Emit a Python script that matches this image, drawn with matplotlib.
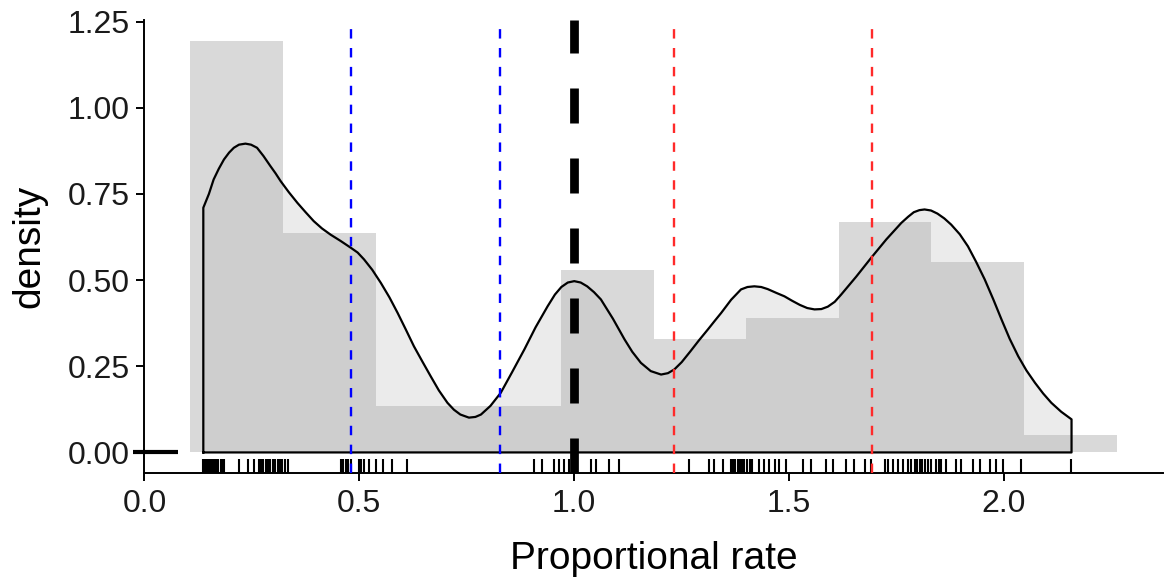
import numpy as np
import matplotlib
matplotlib.use("Agg")
import matplotlib.pyplot as plt
import matplotlib.transforms as mtransforms

plt.rcParams['font.family'] = ['Liberation Sans', 'DejaVu Sans']

# histogram (density scale)
bin_edges = [0.107, 0.3225, 0.538, 0.7535, 0.969, 1.1845, 1.400, 1.6155, 1.831, 2.0465, 2.262]
bin_heights = [1.195, 0.638, 0.136, 0.136, 0.530, 0.329, 0.389, 0.669, 0.553, 0.050]

# kernel density curve
dens_x = [0.137, 0.150, 0.161, 0.173, 0.185, 0.197, 0.208, 0.220, 0.235, 0.248,
          0.262, 0.277, 0.293, 0.305, 0.317, 0.336, 0.356, 0.375, 0.394, 0.413,
          0.433, 0.456, 0.480, 0.496, 0.511, 0.530, 0.550, 0.570, 0.589, 0.608,
          0.627, 0.647, 0.666, 0.685, 0.705, 0.720, 0.735, 0.755, 0.770, 0.783,
          0.805, 0.829, 0.855, 0.884, 0.910, 0.938, 0.955, 0.970, 0.985, 1.000,
          1.015, 1.030, 1.046, 1.062, 1.090, 1.117, 1.135, 1.155, 1.178, 1.202,
          1.218, 1.233, 1.250, 1.270, 1.290, 1.311, 1.327, 1.342, 1.365, 1.388,
          1.403, 1.419, 1.435, 1.450, 1.470, 1.489, 1.507, 1.525, 1.542, 1.559,
          1.575, 1.590, 1.606, 1.621, 1.656, 1.691, 1.726, 1.761, 1.777, 1.790,
          1.803, 1.815, 1.830, 1.845, 1.861, 1.877, 1.897, 1.916, 1.935, 1.955,
          1.975, 1.994, 2.013, 2.033, 2.052, 2.072, 2.091, 2.110, 2.133, 2.157]
dens_y = [0.710, 0.750, 0.792, 0.823, 0.850, 0.870, 0.884, 0.893, 0.896, 0.893,
          0.884, 0.860, 0.831, 0.810, 0.787, 0.755, 0.724, 0.697, 0.671, 0.650,
          0.632, 0.614, 0.594, 0.580, 0.560, 0.530, 0.492, 0.450, 0.405, 0.357,
          0.308, 0.263, 0.221, 0.180, 0.144, 0.124, 0.110, 0.101, 0.103, 0.110,
          0.135, 0.173, 0.232, 0.299, 0.363, 0.424, 0.458, 0.480, 0.493, 0.497,
          0.493, 0.482, 0.465, 0.444, 0.388, 0.328, 0.292, 0.260, 0.236, 0.226,
          0.230, 0.241, 0.262, 0.293, 0.325, 0.357, 0.382, 0.405, 0.443, 0.473,
          0.480, 0.482, 0.480, 0.474, 0.463, 0.453, 0.440, 0.428, 0.419, 0.415,
          0.416, 0.423, 0.437, 0.458, 0.510, 0.565, 0.618, 0.666, 0.684, 0.697,
          0.703, 0.705, 0.702, 0.693, 0.679, 0.661, 0.633, 0.598, 0.553, 0.502,
          0.444, 0.386, 0.330, 0.279, 0.238, 0.202, 0.171, 0.144, 0.118, 0.096]

# observations (rug)
rug_x = [0.137, 0.141, 0.145, 0.150, 0.154, 0.158, 0.163, 0.167, 0.171, 0.177,
         0.181, 0.186, 0.220, 0.2415, 0.255, 0.266, 0.271, 0.276, 0.282, 0.288,
         0.293, 0.298, 0.304, 0.310, 0.315, 0.321, 0.327, 0.333,
         0.458, 0.463, 0.468, 0.473, 0.480, 0.499, 0.505, 0.511, 0.5225, 0.538,
         0.554, 0.577, 0.612,
         0.907, 0.926, 0.953, 0.965, 0.977, 0.988, 1.004, 1.039, 1.0505, 1.0815, 1.103,
         1.268, 1.3145, 1.326, 1.3457, 1.365, 1.370, 1.375, 1.380, 1.385, 1.390,
         1.396, 1.402, 1.408, 1.413, 1.431, 1.4426, 1.454, 1.466, 1.4775, 1.493,
         1.532, 1.551, 1.586, 1.602, 1.633, 1.652, 1.6755, 1.691, 1.724, 1.730,
         1.7415, 1.753, 1.765, 1.7766, 1.783, 1.792, 1.798, 1.8037, 1.810, 1.815,
         1.822, 1.831, 1.8425, 1.848, 1.854, 1.866, 1.889, 1.900, 1.928, 1.943,
         1.967, 1.982, 1.998, 2.0405, 2.1555]

blue_lines = [0.480, 0.827]
red_lines = [1.232, 1.6935]
ref_line = 1.0

fig = plt.figure(figsize=(11.66, 5.79), dpi=100)
ax = fig.add_axes([0.1235, 0.183, 0.874, 0.7825])

widths = np.diff(bin_edges)
ax.bar(bin_edges[:-1], bin_heights, width=widths, align='edge',
       color='#d9d9d9', linewidth=0, zorder=1)

px = [dens_x[0]] + dens_x + [dens_x[-1]]
py = [0.0] + dens_y + [0.0]
ax.fill(px, py, facecolor='#afafaf', alpha=0.24, edgecolor='none', zorder=2)
ax.plot(px + [px[0]], py + [py[0]], color='black', lw=1.6, zorder=3)

trans = mtransforms.blended_transform_factory(ax.transData, ax.transAxes)
ax.vlines(rug_x, 0, 0.03, transform=trans, color='black', lw=1.5, zorder=3)

for x in blue_lines:
    ax.axvline(x, color='#0000ff', lw=1.7, dashes=(4, 4), zorder=4)
for x in red_lines:
    ax.axvline(x, color='#ff2a2a', lw=1.7, dashes=(4, 4), zorder=4)
ax.axvline(ref_line, color='black', lw=6.3, dashes=(4, 4), zorder=5)

ax.plot([-0.026, 0.077], [0, 0], color='black', lw=3, clip_on=False, zorder=6,
        solid_capstyle='butt')

ax.set_xlim(-0.001, 2.37)
ax.set_ylim(-0.0598, 1.2548)
ax.set_xticks([0.0, 0.5, 1.0, 1.5, 2.0])
ax.set_xticklabels(['0.0', '0.5', '1.0', '1.5', '2.0'])
ax.set_yticks([0.0, 0.25, 0.5, 0.75, 1.0, 1.25])
ax.set_yticklabels(['0.00', '0.25', '0.50', '0.75', '1.00', '1.25'])

for side in ['top', 'right']:
    ax.spines[side].set_visible(False)
for side in ['left', 'bottom']:
    ax.spines[side].set_linewidth(1.4)
ax.tick_params(axis='both', length=5.5, width=1.4, labelsize=23,
               labelcolor='#1a1a1a', pad=5)
ax.tick_params(axis='x', pad=6)

ax.set_xlabel('Proportional rate', fontsize=28, labelpad=16)
ax.set_ylabel('density', fontsize=28, labelpad=14)

fig.savefig('out.png', dpi=100)
